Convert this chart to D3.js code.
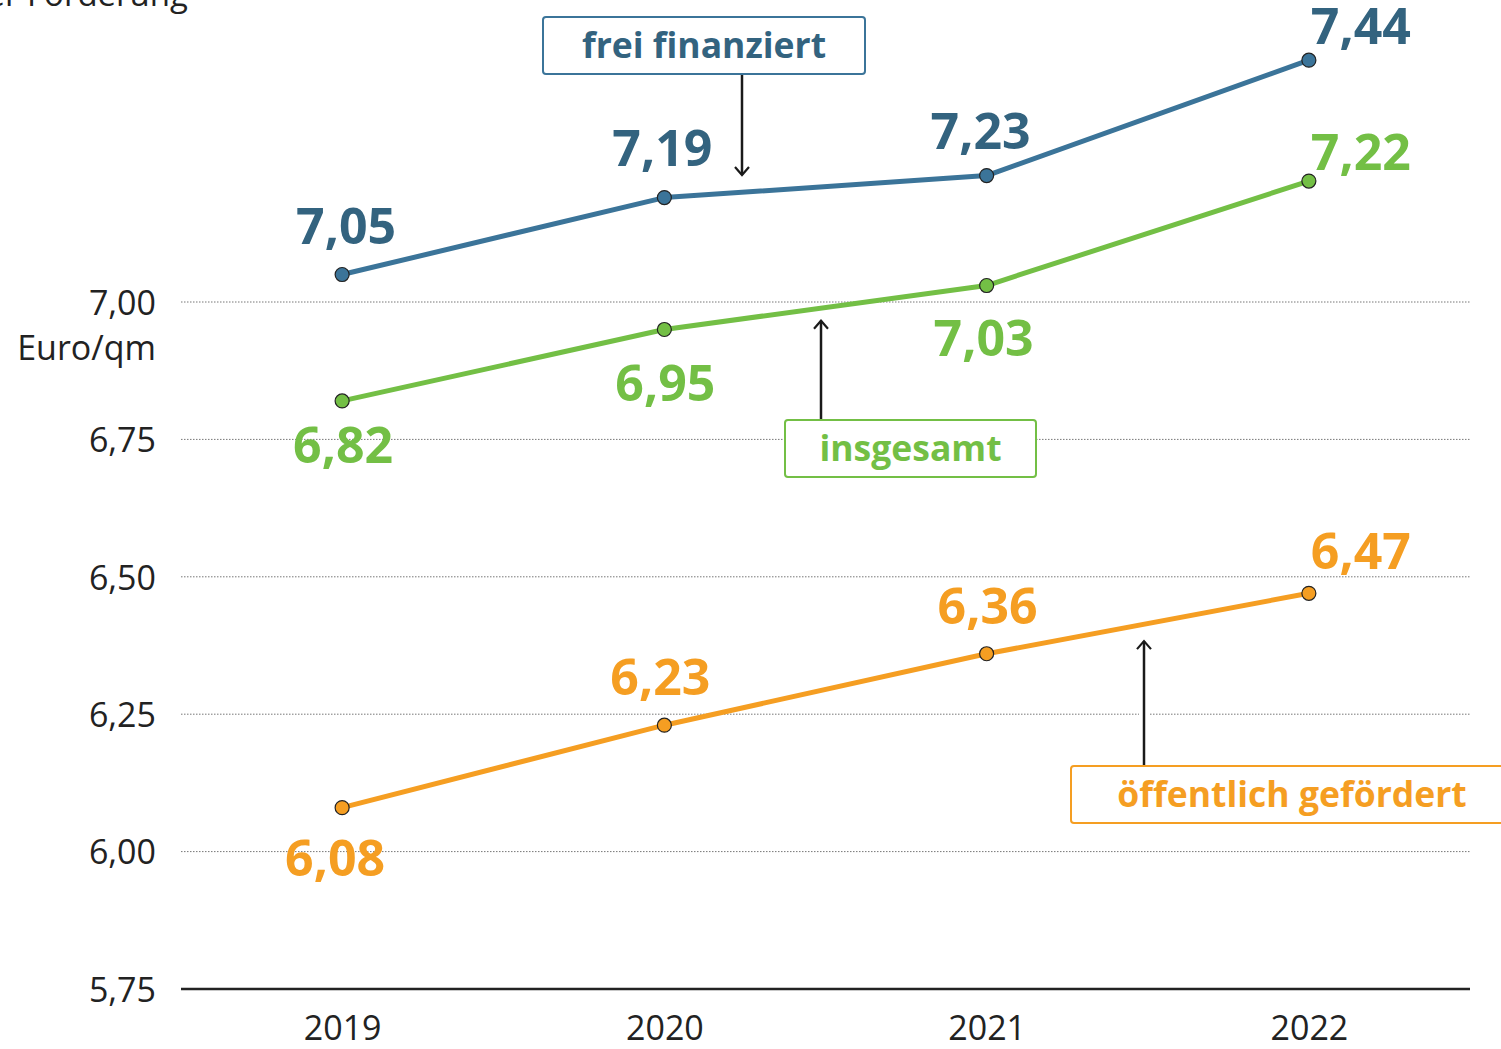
<!DOCTYPE html>
<html><head><meta charset="utf-8">
<script src="https://cdn.jsdelivr.net/npm/d3@7"></script>
<style>body{margin:0;background:#fff}svg{display:block}</style>
</head><body>
<svg id="c" width="1501" height="1049"></svg>
<script>
const years = ["2019","2020","2021","2022"];
const freiFinanziert = [7.05, 7.19, 7.23, 7.44];
const insgesamt = [6.82, 6.95, 7.03, 7.22];
const oeffentlich = [6.08, 6.23, 6.36, 6.47];
const yTicks = [5.75, 6.00, 6.25, 6.50, 6.75, 7.00];
const seriesNames = ["frei finanziert", "insgesamt", "öffentlich gefördert"];
const unitLabel = "Euro/qm";
const titleText = "Angebotsmieten nach Art der Förderung";

const svg = d3.select("#c");
const font = "'Open Sans', sans-serif";
const x = d3.scalePoint().domain(years).range([181, 1470]).padding(0.5);
const y = d3.scaleLinear().domain([5.75, 7.00]).range([989, 302]);
const fmt = v => d3.format(".2f")(v).replace(".", ",");

// title fragment (cut off at top edge, as in the reference)
svg.append("text").attr("x", 188).attr("y", 6).attr("text-anchor", "end")
  .attr("font-family", font).attr("font-size", 33).attr("fill", "#222").text(titleText);

// gridlines
const grid = svg.append("g");
yTicks.filter(t => t > 5.75).forEach(t => {
  grid.append("line").attr("x1", 181).attr("x2", 1470).attr("y1", y(t)).attr("y2", y(t))
    .attr("stroke", "#777").attr("stroke-width", 1).attr("stroke-dasharray", "1.5,1.5");
});
// y axis (labels only)
const yAxis = d3.axisLeft(y).tickValues(yTicks).tickSize(0).tickPadding(0).tickFormat(fmt);
const ya = svg.append("g").attr("transform", "translate(156,0)").call(yAxis);
ya.select(".domain").remove();
ya.selectAll("text").attr("font-family", font).attr("font-size", 34).attr("fill", "#222").attr("dy", "0.36em");
svg.append("text").attr("x", 156).attr("y", y(7.0) + 58).attr("text-anchor", "end")
  .attr("font-family", font).attr("font-size", 34).attr("fill", "#222").text(unitLabel);

// x axis
const xAxis = d3.axisBottom(x).tickSize(0).tickPadding(27);
const xa = svg.append("g").attr("transform", `translate(0,${y(5.75)})`).call(xAxis);
xa.select(".domain").attr("stroke", "#222").attr("stroke-width", 2.5).attr("d", "M181,0H1470");
xa.selectAll("text").attr("font-family", font).attr("font-size", 34).attr("fill", "#222");

// annotation arrows (knock out gridline behind arrows)
function arrow(x0, y0, y1) {
  const dir = y1 < y0 ? 1 : -1;
  svg.append("line").attr("x1", x0).attr("x2", x0).attr("y1", y0).attr("y2", y1)
    .attr("stroke", "#fff").attr("stroke-width", 10);
  svg.append("line").attr("x1", x0).attr("x2", x0).attr("y1", y0).attr("y2", y1)
    .attr("stroke", "#1a1a1a").attr("stroke-width", 2.5);
  svg.append("path").attr("d", `M${x0-7},${y1+8*dir}L${x0},${y1}L${x0+7},${y1+8*dir}`)
    .attr("fill", "none").attr("stroke", "#1a1a1a").attr("stroke-width", 2.2);
}
arrow(742, 74, y(7.231));
arrow(821, 420, y(6.966));
arrow(1144, 766, y(6.383));

const series = [
  {name: seriesNames[0], values: freiFinanziert, line: "#3b7499", text: "#33637f",
   lab: [[4,-31],[-2,-32],[-6,-27],[52,-16]]},
  {name: seriesNames[1], values: insgesamt, line: "#73bf45", text: "#73bf45",
   lab: [[1,62],[1,72],[-3,70],[52,-11]]},
  {name: seriesNames[2], values: oeffentlich, line: "#f59e22", text: "#f59e22",
   lab: [[-7,68],[-4,-30],[1,-30],[52,-24]]}
];

const line = d3.line().x((d, i) => x(years[i])).y(d => y(d));
series.forEach(s => {
  svg.append("path").datum(s.values).attr("d", line).attr("fill", "none")
    .attr("stroke", s.line).attr("stroke-width", 5).attr("stroke-linejoin", "round");
  svg.selectAll(null).data(s.values).enter().append("circle")
    .attr("cx", (d, i) => x(years[i])).attr("cy", d => y(d)).attr("r", 7)
    .attr("fill", s.line).attr("stroke", "#222").attr("stroke-width", 1.2);
  svg.selectAll(null).data(s.values).enter().append("text")
    .attr("x", (d, i) => x(years[i]) + s.lab[i][0]).attr("y", (d, i) => y(d) + s.lab[i][1])
    .attr("text-anchor", "middle").attr("font-family", font).attr("font-weight", 700)
    .attr("font-size", 50).attr("fill", s.text).text(d => fmt(d));
});

// legend boxes
const boxes = [
  {s: series[0], x: 543, y: 17, w: 322, h: 57},
  {s: series[1], x: 785, y: 420, w: 251, h: 57},
  {s: series[2], x: 1071, y: 766, w: 440, h: 57, cx: 1292}
];
boxes.forEach(b => {
  svg.append("rect").attr("x", b.x).attr("y", b.y).attr("width", b.w).attr("height", b.h)
    .attr("rx", 3).attr("fill", "#fff").attr("stroke", b.s.line).attr("stroke-width", 2);
  svg.append("text").attr("x", b.cx || b.x + b.w / 2).attr("y", b.y + 41)
    .attr("text-anchor", "middle").attr("font-family", font).attr("font-weight", 700)
    .attr("font-size", 35.5).attr("fill", b.s.text).text(b.s.name);
});
</script>
</body></html>
